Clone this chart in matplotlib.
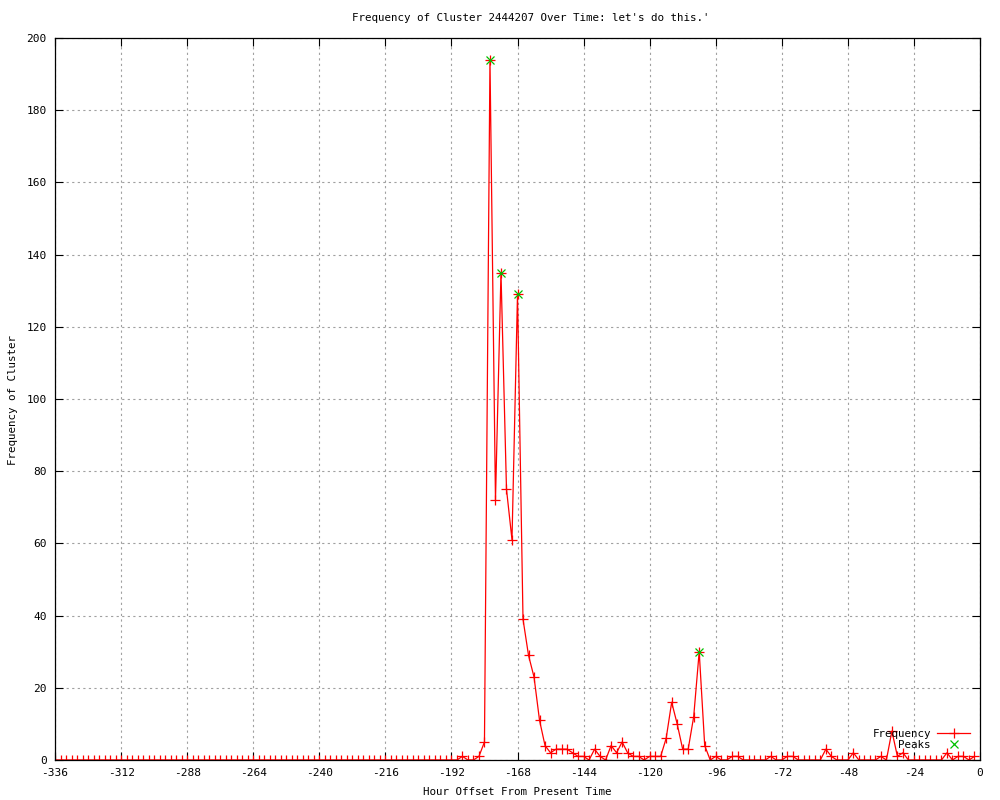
import matplotlib
matplotlib.use("Agg")
import matplotlib.pyplot as plt
import numpy as np

plt.rcParams['font.family'] = ['DejaVu Sans Mono']
plt.rcParams['axes.unicode_minus'] = False

# hourly offsets, one point every 2 hours
hours = np.arange(-336, 0, 2)

freq = [
    0, 0, 0, 0, 0, 0, 0, 0, 0, 0, 0, 0, 0, 0, 0, 0, 0, 0, 0, 0,
    0, 0, 0, 0, 0, 0, 0, 0, 0, 0, 0, 0, 0, 0, 0, 0, 0, 0, 0, 0,
    0, 0, 0, 0, 0, 0, 0, 0, 0, 0, 0, 0, 0, 0, 0, 0, 0, 0, 0, 0,
    0, 0, 0, 0, 0, 0, 0, 0, 0, 0, 0, 0, 0, 0,
    # -188 .. -2
    1, 0, 0, 1, 5, 194, 72, 135, 75, 61, 129, 39, 29, 23, 11, 4,
    2, 3, 3, 3, 2, 1, 1, 0, 3, 1, 0, 4, 2, 5, 2, 1, 1, 0, 1, 1,
    1, 6, 16, 10, 3, 3, 12, 30, 4, 0, 1, 0, 0, 1, 1, 0, 0, 0, 0, 0,
    1, 0, 0, 1, 1, 0, 0, 0, 0, 0, 3, 1, 0, 0, 0, 2, 0, 0, 0, 0,
    1, 0, 8, 1, 2, 0, 0, 0, 0, 0, 0, 0, 2, 0, 1, 1, 0, 1,
]

peak_hours = [-178, -174, -168, -102]
peak_vals = [194, 135, 129, 30]

fig = plt.figure(figsize=(10, 8), dpi=100)
ax = fig.add_axes([0.055, 0.05, 0.925, 0.9025])

ax.plot(hours, freq, color='red', lw=0.9, marker='+', ms=6.5, mew=0.9,
        label='Frequency')
ax.plot(peak_hours, peak_vals, ls='none', color='#00c000', marker='x',
        ms=6, mew=0.9, label='Peaks')

ax.set_xlim(-336, 0)
ax.set_ylim(0, 200)
ax.set_xticks(np.arange(-336, 1, 24))
ax.set_yticks(np.arange(0, 201, 20))
ax.tick_params(direction='in', length=6, width=0.8, top=True, right=True,
               labelsize=8, pad=6)
ax.grid(True, color='#a0a0a0', linestyle=(0, (2, 3)), lw=0.8)
for s in ax.spines.values():
    s.set_linewidth(0.9)

fig.text(0.531, 1 - 18 / 800, "Frequency of Cluster 2444207 Over Time: let's do this.'",
         ha='center', va='center', fontsize=7.8)
fig.text(0.517, 1 - 792 / 800, 'Hour Offset From Present Time',
         ha='center', va='center', fontsize=7.8)
fig.text(0.013, 0.5, 'Frequency of Cluster', rotation=90,
         ha='center', va='center', fontsize=7.8)

ax.legend(loc='lower right', bbox_to_anchor=(0.989, 0.0135), frameon=False,
          markerfirst=False, fontsize=7.8, handlelength=3, labelspacing=0.15,
          handletextpad=0.6, borderpad=0, borderaxespad=0)

fig.savefig('out.png', dpi=100)
